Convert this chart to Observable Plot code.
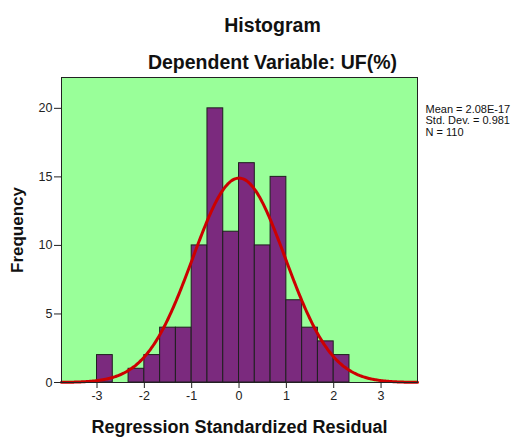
<!DOCTYPE html>
<html>
<head>
<meta charset="utf-8">
<script src="https://cdn.jsdelivr.net/npm/d3@7"></script>
<script src="https://cdn.jsdelivr.net/npm/@observablehq/plot@0.6"></script>
<style>
  html, body { margin: 0; padding: 0; background: #fff; }
  svg { font-family: "Liberation Sans", Arial, sans-serif; }
</style>
</head>
<body>
<div id="chart"></div>
<script>
// Bin edges (left / right) of the histogram, width 1/3
const binLo = [-3, -2.6667, -2.3333, -2, -1.6667, -1.3333, -1, -0.6667, -0.3333, 0, 0.3333, 0.6667, 1, 1.3333, 1.6667, 2];
const binHi = [-2.6667, -2.3333, -2, -1.6667, -1.3333, -1, -0.6667, -0.3333, 0, 0.3333, 0.6667, 1, 1.3333, 1.6667, 2, 2.3333];
const counts = [2, 0, 1, 2, 4, 4, 10, 20, 11, 16, 10, 15, 6, 4, 3, 2];

const xTicks = [-3, -2, -1, 0, 1, 2, 3];
const yTicks = [0, 5, 10, 15, 20];

// Summary statistics shown in the chart (used for the fitted normal curve)
const statMean = 2.08e-17;
const statSD = 0.981;
const statN = 110;
const binWidth = 1 / 3;
const statLines = ["Mean = 2.08E-17", "Std. Dev. = 0.981", "N = 110"];

const bars = counts.map((c, i) => ({x1: binLo[i], x2: binHi[i], y: c}));

// Normal curve fitted from the stated mean / sd / N
const xDomain = [-3.75, 3.77];
const curve = d3.range(xDomain[0], xDomain[1] + 0.001, 0.02).map(x => ({
  x,
  y: statN * binWidth / (statSD * Math.sqrt(2 * Math.PI)) * Math.exp(-0.5 * ((x - statMean) / statSD) ** 2)
}));

const W = 528, H = 437;
const mL = 61, mR = 111, mT = 77, mB = 55;

const chart = Plot.plot({
  width: W,
  height: H,
  marginLeft: mL,
  marginRight: mR,
  marginTop: mT,
  marginBottom: mB,
  style: {fontFamily: "'Liberation Sans', Arial, sans-serif", background: "#fff", overflow: "visible"},
  x: {domain: xDomain, label: null},
  y: {domain: [0, 22.25], label: null},
  marks: [
    Plot.frame({fill: "#99ff99", stroke: "none"}),
    Plot.rectY(bars, {x1: "x1", x2: "x2", y: "y", fill: "#7b2a7e", stroke: "#1f1f1f", strokeWidth: 1, inset: 0}),
    Plot.line(curve, {x: "x", y: "y", stroke: "#cc0000", strokeWidth: 3, curve: "basis"}),
    Plot.frame({stroke: "#222", strokeWidth: 1}),
    Plot.axisX({ticks: xTicks, tickSize: 6, tickPadding: 3, fontSize: 12.5, fill: "#222", stroke: "#222", label: null, tickFormat: d => String(d)}),
    Plot.axisY({ticks: yTicks, tickSize: 7, tickPadding: 2, fontSize: 12.5, fill: "#222", stroke: "#222", label: null, tickFormat: d => String(d)}),
    Plot.text(["Histogram"], {frameAnchor: "top", dx: 33, dy: -59, fontSize: 19.5, fontWeight: "bold", fill: "#111"}),
    Plot.text(["Dependent Variable: UF(%)"], {frameAnchor: "top", dx: 33, dy: -22, fontSize: 19.5, fontWeight: "bold", fill: "#111"}),
    Plot.text(["Regression Standardized Residual"], {frameAnchor: "bottom", dy: 38, lineAnchor: "top", fontSize: 18, fontWeight: "bold", fill: "#111"}),
    Plot.text(["Frequency"], {frameAnchor: "left", dx: -44, rotate: -90, textAnchor: "middle", fontSize: 17, fontWeight: "bold", fill: "#111"}),
    Plot.text([statLines.join("\n")], {frameAnchor: "top-right", dx: 8, dy: 27, textAnchor: "start", lineAnchor: "top", lineHeight: 1.05, fontSize: 11, fill: "#111"})
  ]
});

document.getElementById("chart").appendChild(chart);
</script>
</body>
</html>
